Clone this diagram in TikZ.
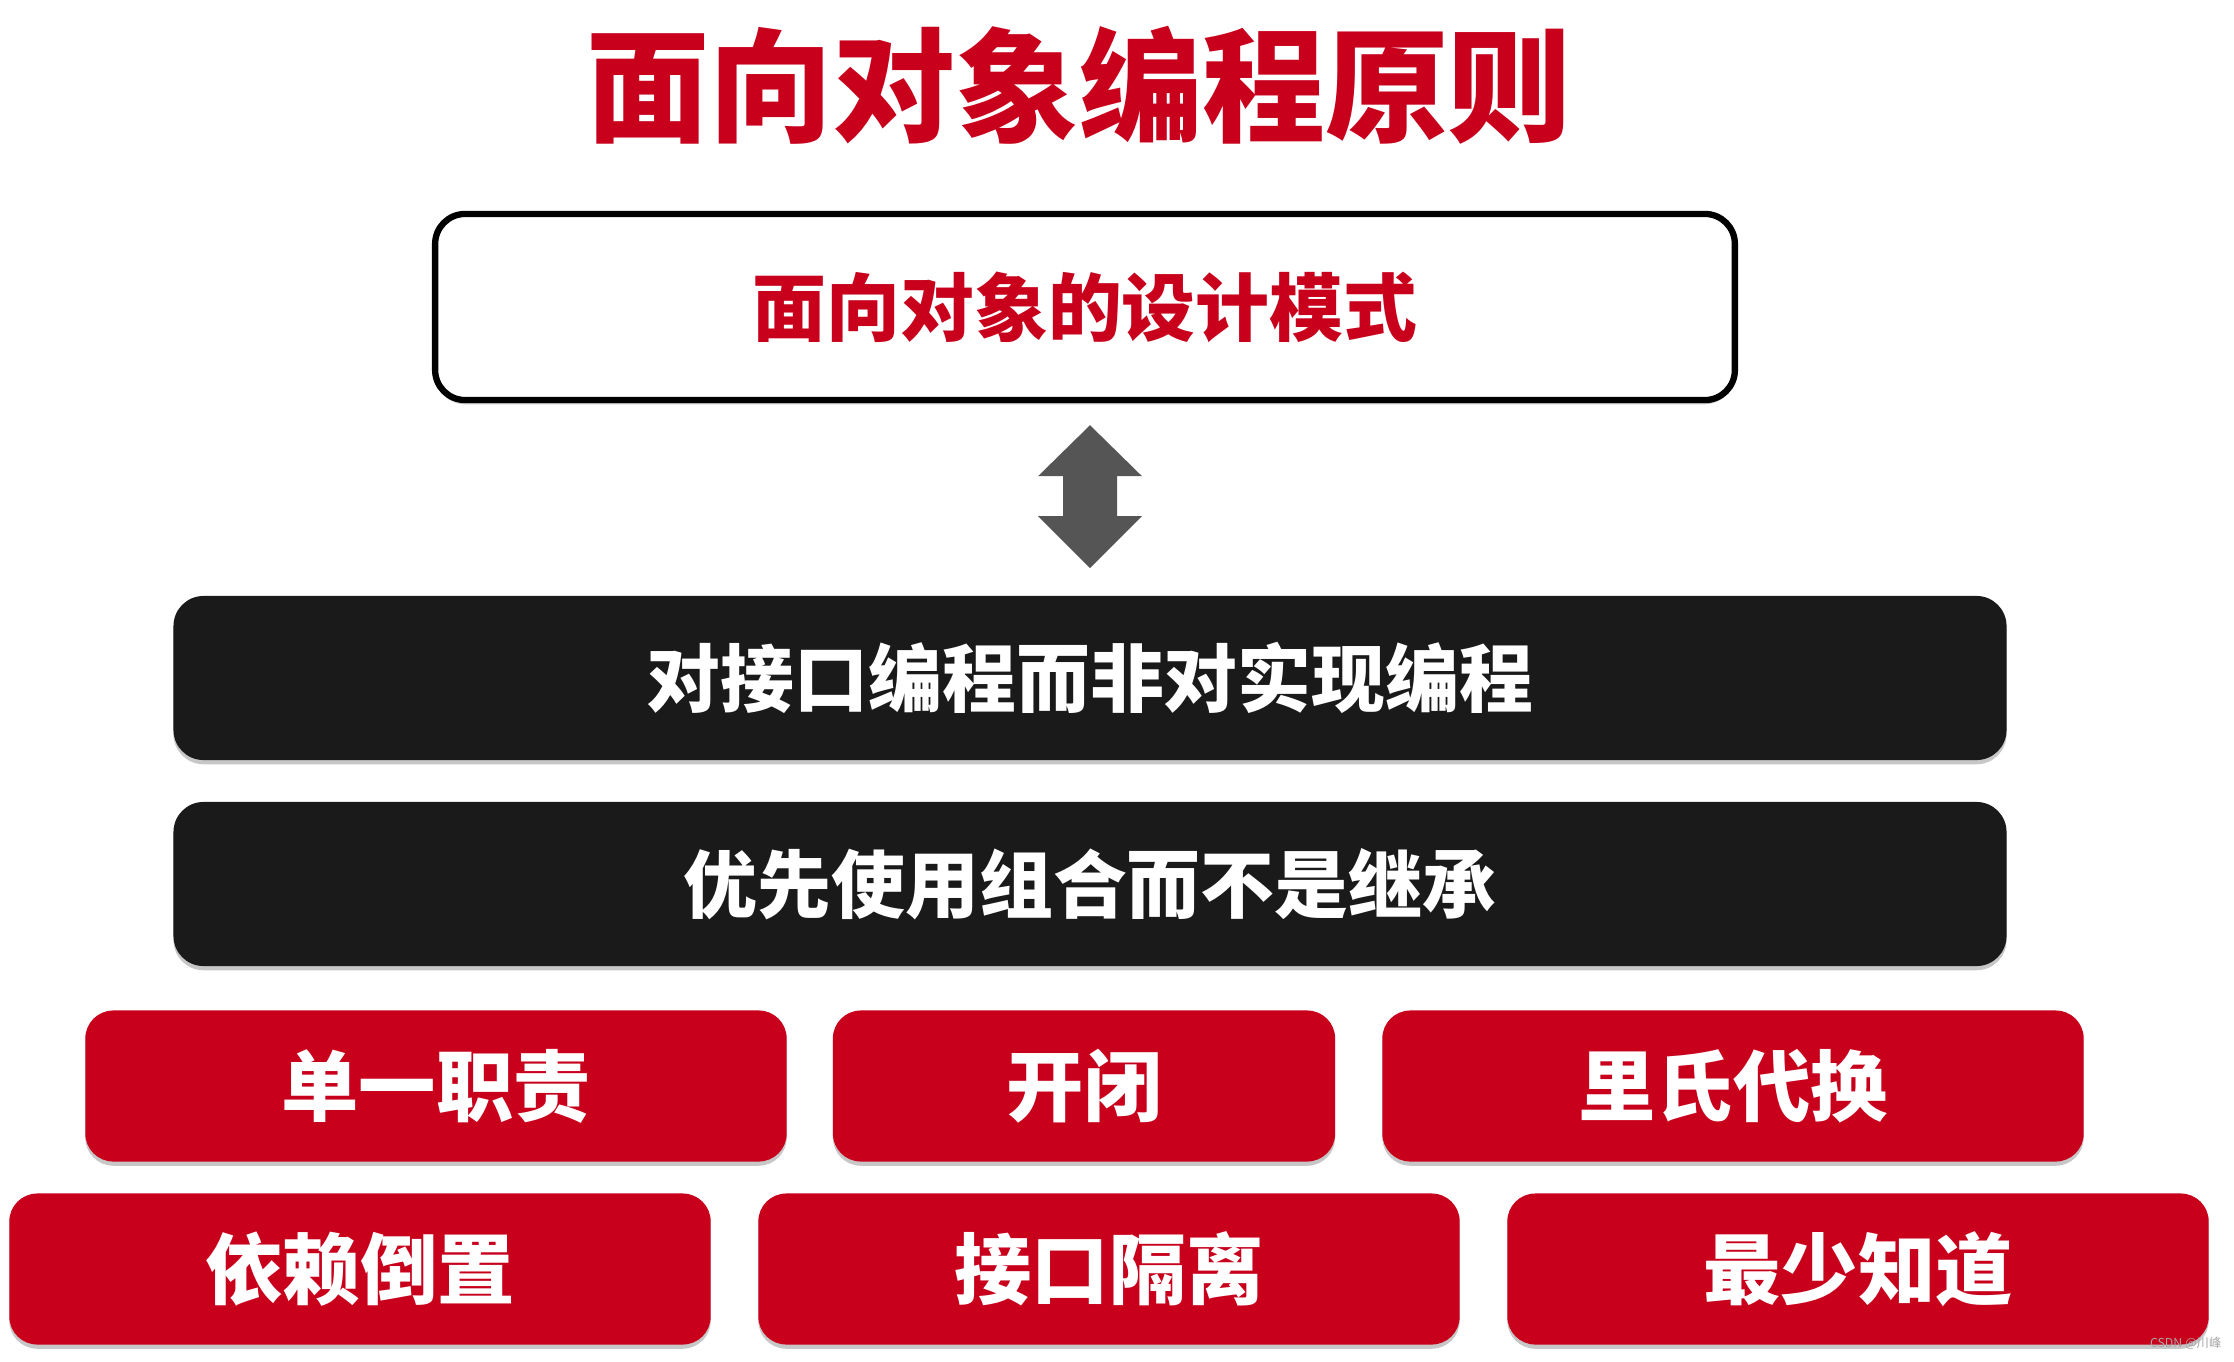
\documentclass[tikz,border=0pt]{standalone}
\usepackage{fontspec}
\newfontfamily\cjk{Noto Sans CJK SC}
\usetikzlibrary{shadows,calc}
\definecolor{oored}{RGB}{200,0,28}
\definecolor{barblack}{RGB}{26,26,26}
\definecolor{arrowgray}{RGB}{85,85,85}
\tikzset{
  softshadow/.style={drop shadow={fill=black,opacity=.22,shadow xshift=0pt,shadow yshift=-1.2pt}},
  redbox/.style={fill=oored,text=white,rounded corners=.28cm,minimum width=7.01cm,minimum height=1.51cm,
    inner sep=0pt,softshadow,font=\cjk\bfseries\fontsize{22}{22}\selectfont},
  blackbar/.style={fill=barblack,text=white,rounded corners=.3cm,minimum width=18.32cm,minimum height=1.64cm,
    inner sep=0pt,softshadow,font=\cjk\bfseries\fontsize{21}{21}\selectfont},
}

\begin{document}
\begin{tikzpicture}[x=0.01cm,y=-0.01cm]
    \useasboundingbox (0,0) rectangle (2234,1361);
    %title
    \node[text=oored,font=\cjk\bfseries\fontsize{35}{35}\selectfont] (title) at (1079,85) {面向对象编程原则};
    %the design pattern box and the two black bars
    \node[draw=black,line width=1.8pt,fill=white,rounded corners=.3cm,minimum width=12.99cm,minimum height=1.86cm,
        inner sep=0pt,softshadow,text=oored,font=\cjk\bfseries\fontsize{21}{21}\selectfont] (design) at (1085,307) {面向对象的设计模式};
    \node[blackbar] (iface) at (1090,678) {对接口编程而非对实现编程};
    \node[blackbar] (compose) at (1090,884) {优先使用组合而不是继承};
    %six principles
    \node[redbox] (srp) at (436,1086) {单一职责};
    \node[redbox,minimum width=5.02cm] (ocp) at (1084,1086) {开闭};
    \node[redbox] (lsp) at (1733,1086) {里氏代换};
    \node[redbox] (dip) at (360,1269) {依赖倒置};
    \node[redbox] (isp) at (1109,1269) {接口隔离};
    \node[redbox] (lod) at (1858,1269) {最少知道};
    %double arrow between design and iface
    \coordinate (up) at ($(design.south)+(5,22)$);
    \fill[arrowgray] (up) -- ++(52,51) -- ++(-25,0) -- ++(0,40) -- ++(25,0) -- ++(-52,52)
        -- ++(-52,-52) -- ++(25,0) -- ++(0,-40) -- ++(-25,0) -- cycle;
    \node[text=gray!70,font=\cjk\fontsize{3.5}{4}\selectfont,anchor=east,inner sep=0pt] (mark) at (2222,1343) {CSDN @川峰};
\end{tikzpicture}
\end{document}
